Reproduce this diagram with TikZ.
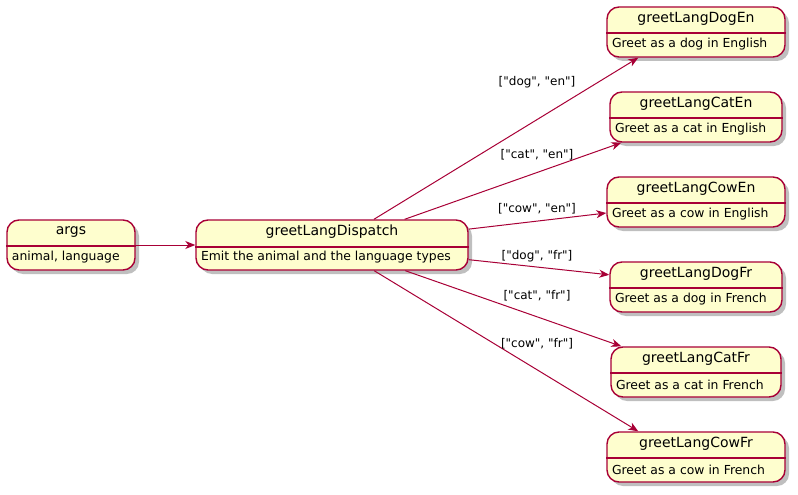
\documentclass[tikz,border=0pt]{standalone}
\usepackage{fontspec}
\newfontfamily\dv{DejaVu Sans}
\usetikzlibrary{arrows.meta,shadows}
\definecolor{umlfill}{HTML}{FEFECE}
\definecolor{umlborder}{HTML}{A80036}
\begin{document}
\begin{tikzpicture}[x=1pt,y=-1pt,
  state/.style={draw=umlborder, fill=umlfill, line width=1.4pt, rounded corners=12pt,
    minimum height=50pt, inner sep=0pt,
    drop shadow={shadow xshift=4pt, shadow yshift=-4pt, opacity=0.25, fill=black}},
  divider/.style={draw=umlborder, line width=1.4pt},
  title/.style={font=\dv\fontsize{14}{16}\selectfont, inner sep=0pt},
  desc/.style={font=\dv\fontsize{12.4}{14}\selectfont, inner sep=0pt, anchor=west},
  lbl/.style={font=\dv\fontsize{12}{14}\selectfont, inner sep=0pt},
  edge/.style={draw=umlborder, line width=1pt, -{Stealth[length=10pt,width=8pt,inset=3pt]}}
]
\useasboundingbox (0,0) rectangle (798,495);

% state boxes
\node[state, minimum width=128pt] (args) at (71,245) {};
\node[state, minimum width=272pt] (dispatch) at (332,245) {};
\node[state, minimum width=178pt] (dogen) at (696,32) {};
\node[state, minimum width=172pt] (caten) at (696,117) {};
\node[state, minimum width=178pt] (cowen) at (696,202) {};
\node[state, minimum width=172pt] (dogfr) at (696,287) {};
\node[state, minimum width=170pt] (catfr) at (696,372) {};
\node[state, minimum width=178pt] (cowfr) at (696,457) {};

% dividers, titles, descriptions
\foreach \n/\t/\d/\o in {
  args/args/{animal, language}/1,
  dispatch/greetLangDispatch/{Emit the animal and the language types}/2,
  dogen/greetLangDogEn/{Greet as a dog in English}/1,
  caten/greetLangCatEn/{Greet as a cat in English}/1,
  cowen/greetLangCowEn/{Greet as a cow in English}/1,
  dogfr/greetLangDogFr/{Greet as a dog in French}/1,
  catfr/greetLangCatFr/{Greet as a cat in French}/1,
  cowfr/greetLangCowFr/{Greet as a cow in French}/1}{
  \draw[divider] ([yshift=-\o pt]\n.west) -- ([yshift=-\o pt]\n.east);
  \node[title] (\n-title) at ([yshift=-12.5pt]\n.north) {\t};
  \node[desc] (\n-desc) at ([xshift=5.5pt,yshift=-12.5pt]\n.west) {\d};
}

% connectors
\draw[edge] (args) -- (dispatch);
\draw[edge] (dispatch) -- (dogen.204);
\draw[edge] (dispatch) -- (caten.199.6);
\draw[edge] (dispatch) -- (cowen.187);
\draw[edge] (dispatch) -- (dogfr.172.9);
\draw[edge] (dispatch) -- (catfr.161.1);
\draw[edge] (dispatch) -- (cowfr.156);

% edge labels
\node[lbl] (l1) at (537,82) {["dog", "en"]};
\node[lbl] (l2) at (537,155) {["cat", "en"]};
\node[lbl] (l3) at (537,209) {["cow", "en"]};
\node[lbl] (l4) at (537,256) {["dog", "fr"]};
\node[lbl] (l5) at (537,296) {["cat", "fr"]};
\node[lbl] (l6) at (537,344) {["cow", "fr"]};
\end{tikzpicture}
\end{document}
